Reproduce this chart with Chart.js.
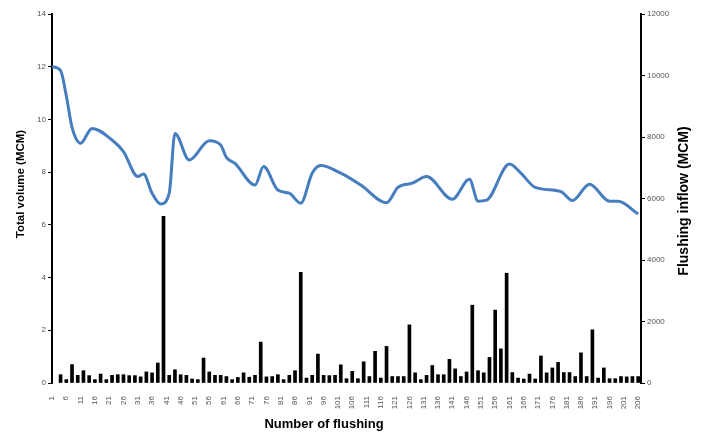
<!DOCTYPE html>
<html>
<head>
<meta charset="utf-8">
<script src="https://cdn.jsdelivr.net/npm/chart.js@4/dist/chart.umd.min.js"></script>
<style>
  html, body { margin: 0; padding: 0; background: #fff; }
  #wrap { width: 701px; height: 437px; }
</style>
</head>
<body>
<div id="wrap"><canvas id="c" width="701" height="437"></canvas></div>
<script>
// ---- Data ----
// Flushing number (x) of each bar
const barFlushing = [4,6,8,10,12,14,16,18,20,22,24,26,28,30,32,34,36,38,40,42,44,46,48,50,52,54,56,58,60,62,64,66,68,70,
  72,74,76,78,80,82,84,86,88,90,92,94,96,98,100,102,104,106,108,110,112,114,116,118,120,122,124,126,128,130,132,134,136,138,140,
  142,144,146,148,150,152,154,156,158,160,162,164,166,168,170,172,174,176,178,180,182,184,186,188,190,192,194,196,198,200,202,204,206];
// Flushing inflow (MCM), right axis
const flushingInflow = [270,110,600,250,400,240,110,290,110,250,270,270,240,240,200,360,330,650,5420,250,430,270,250,130,110,810,360,250,250,210,110,180,330,190,
  250,1330,200,210,270,110,250,400,3600,160,250,940,250,240,250,590,140,380,140,690,210,1030,160,1190,210,210,210,1890,330,110,250,570,270,270,770,
  460,210,360,2530,400,330,830,2370,1110,3570,340,160,130,290,130,880,330,490,670,340,340,210,980,210,1730,160,490,140,140,210,200,210,210];
// Total volume (MCM) curve, left axis
const volumeFlushing = [1,4,6,8,11,15,22,26,31,33,36,39,42,44,49,56,60,62,65,72,75,80,84,88,92,95,102,109,118,122,127,132,141,147,150,153,161,165,170,179,183,189,196,199,206];
const totalVolume   = [12.0,11.85,10.9,9.7,9.1,9.66,9.22,8.78,7.83,7.93,7.2,6.79,7.2,9.47,8.46,9.19,9.03,8.56,8.33,7.51,8.21,7.32,7.2,6.82,7.96,8.25,7.96,7.51,6.84,7.42,7.58,7.83,6.97,7.73,6.9,6.94,8.31,7.96,7.42,7.26,6.92,7.54,6.9,6.9,6.41];
// Tick labels
const xTickLabels = [1,6,11,16,21,26,31,36,41,46,51,56,61,66,71,76,81,86,91,96,101,106,111,116,121,126,131,136,141,146,151,156,161,166,171,176,181,186,191,196,201,206];
const leftTicks = [0,2,4,6,8,10,12,14];
const rightTicks = [0,2000,4000,6000,8000,10000,12000];
const xTitle = 'Number of flushing';
const leftTitle = 'Total volume (MCM)';
const rightTitle = 'Flushing inflow (MCM)';

const FONT = '"Liberation Sans", Arial, sans-serif';
const TICK_COLOR = '#555';

const titlePlugin = {
  id: 'axisTitles',
  afterDraw(chart) {
    const ctx = chart.ctx;
    ctx.save();
    ctx.fillStyle = '#000';
    ctx.textAlign = 'center';
    ctx.textBaseline = 'middle';
    // bottom
    ctx.font = 'bold 13px ' + FONT;
    ctx.fillText(xTitle, 324, 424);
    // left
    ctx.save();
    ctx.translate(21, 184);
    ctx.rotate(-Math.PI / 2);
    ctx.font = 'bold 11.5px ' + FONT;
    ctx.fillText(leftTitle, 0, 0);
    ctx.restore();
    // right
    ctx.save();
    ctx.translate(684, 201);
    ctx.rotate(-Math.PI / 2);
    ctx.font = 'bold 14px ' + FONT;
    ctx.fillText(rightTitle, 0, 0);
    ctx.restore();
    ctx.restore();
  }
};

new Chart(document.getElementById('c'), {
  data: {
    datasets: [
      {
        type: 'line',
        label: leftTitle,
        data: volumeFlushing.map((x, i) => ({ x: x, y: totalVolume[i] })),
        yAxisID: 'y',
        borderColor: '#467dbf',
        borderWidth: 3,
        pointRadius: 0,
        cubicInterpolationMode: 'monotone',
        fill: false,
        order: 0
      },
      {
        type: 'bar',
        label: rightTitle,
        data: barFlushing.map((x, i) => ({ x: x, y: flushingInflow[i] })),
        yAxisID: 'y1',
        backgroundColor: '#000',
        borderWidth: 0,
        barThickness: 3,
        order: 1
      }
    ]
  },
  options: {
    responsive: false,
    animation: false,
    devicePixelRatio: 1,
    layout: { padding: { top: 14, left: 0, right: 0, bottom: 0 } },
    plugins: { legend: { display: false }, tooltip: { enabled: false } },
    scales: {
      x: {
        type: 'linear',
        min: 1,
        max: 207,
        offset: false,
        afterBuildTicks: (s) => { s.ticks = xTickLabels.map(v => ({ value: v })); },
        afterFit: (s) => { s.height = 54; },
        grid: { display: false },
        border: { display: false },
        ticks: {
          autoSkip: false,
          minRotation: 90,
          maxRotation: 90,
          padding: 5,
          color: TICK_COLOR,
          font: { family: FONT, size: 8 },
          callback: (v) => String(v)
        }
      },
      y: {
        position: 'left',
        min: 0,
        max: 14,
        afterBuildTicks: (s) => { s.ticks = leftTicks.map(v => ({ value: v })); },
        afterFit: (s) => { s.width = 52; },
        grid: { display: true, drawOnChartArea: false, drawTicks: true, tickLength: 4, color: '#000', lineWidth: 1 },
        border: { display: true, color: '#000', width: 2 },
        ticks: { padding: 2, color: TICK_COLOR, font: { family: FONT, size: 8 }, callback: (v) => String(v) }
      },
      y1: {
        position: 'right',
        min: 0,
        max: 12000,
        afterBuildTicks: (s) => { s.ticks = rightTicks.map(v => ({ value: v })); },
        afterFit: (s) => { s.width = 60; },
        grid: { display: true, drawOnChartArea: false, drawTicks: true, tickLength: 4, color: '#000', lineWidth: 1 },
        border: { display: true, color: '#000', width: 2 },
        ticks: { padding: 2, color: TICK_COLOR, font: { family: FONT, size: 8 }, callback: (v) => String(v) }
      }
    }
  },
  plugins: [titlePlugin]
});
</script>
</body>
</html>
